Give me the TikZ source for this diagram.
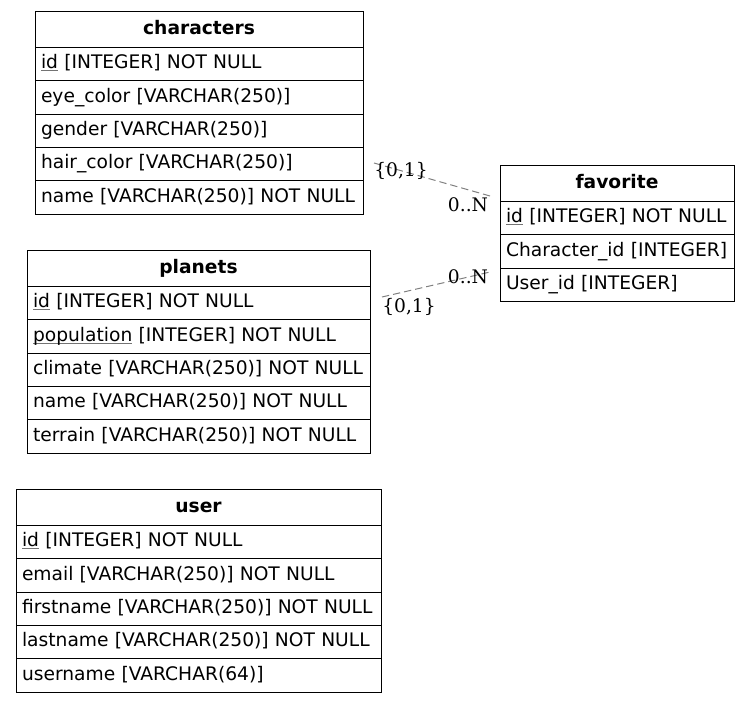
\documentclass[tikz,border=0pt]{standalone}
\usepackage{fontspec}
\setmainfont{DejaVu Sans}
\newfontfamily\lblfont{DejaVu Serif}
\usetikzlibrary{positioning}

\newcommand{\pk}[1]{\rlap{\color{black!55}\underline{\smash{\phantom{#1}}}}#1}

\tikzset{
  tablehead/.style={draw, anchor=north west, outer sep=0pt, minimum height=27.4pt, inner xsep=4.5pt, inner ysep=0pt,
    text height=10.5pt, text depth=3pt, align=center, font=\fontsize{14}{17}\selectfont\bfseries},
  tablerow/.style={draw, outer sep=0pt, minimum height=25pt, inner xsep=4.5pt, inner ysep=0pt,
    text height=10.5pt, text depth=3.5pt, align=left, font=\fontsize{14}{17}\selectfont},
  relation/.style={dash pattern=on 5.5pt off 3pt, gray, line width=0.75pt},
  cardlabel/.style={inner sep=0pt, font=\lblfont\fontsize{14}{17}\selectfont}
}

\begin{document}
\begin{tikzpicture}[x=0.75pt, y=-0.75pt, line width=0.75pt]
    \useasboundingbox (0,0) rectangle (751,703);

    % characters
    \node[tablehead, text width=237pt] (characters) at (35,11) {characters};
    \node[tablerow, text width=237pt, below=0pt of characters] (charid) {\pk{id} [INTEGER] NOT NULL};
    \node[tablerow, text width=237pt, below=0pt of charid] (chareye) {eye\_color [VARCHAR(250)]};
    \node[tablerow, text width=237pt, below=0pt of chareye] (chargender) {gender [VARCHAR(250)]};
    \node[tablerow, text width=237pt, below=0pt of chargender] (charhair) {hair\_color [VARCHAR(250)]};
    \node[tablerow, text width=237pt, below=0pt of charhair] (charname) {name [VARCHAR(250)] NOT NULL};

    % favorite
    \node[tablehead, text width=166.5pt] (favorite) at (500,165) {favorite};
    \node[tablerow, text width=166.5pt, below=0pt of favorite] (favid) {\pk{id} [INTEGER] NOT NULL};
    \node[tablerow, text width=166.5pt, below=0pt of favid] (favchar) {Character\_id [INTEGER]};
    \node[tablerow, text width=166.5pt, below=0pt of favchar] (favuser) {User\_id [INTEGER]};

    % planets
    \node[tablehead, text width=248.25pt] (planets) at (27,250) {planets};
    \node[tablerow, text width=248.25pt, below=0pt of planets] (planid) {\pk{id} [INTEGER] NOT NULL};
    \node[tablerow, text width=248.25pt, below=0pt of planid] (planpop) {\pk{population} [INTEGER] NOT NULL};
    \node[tablerow, text width=248.25pt, below=0pt of planpop] (planclimate) {climate [VARCHAR(250)] NOT NULL};
    \node[tablerow, text width=248.25pt, below=0pt of planclimate] (planname) {name [VARCHAR(250)] NOT NULL};
    \node[tablerow, text width=248.25pt, below=0pt of planname] (planterrain) {terrain [VARCHAR(250)] NOT NULL};

    % user
    \node[tablehead, text width=264.75pt] (user) at (16,489) {user};
    \node[tablerow, text width=264.75pt, below=0pt of user] (userid) {\pk{id} [INTEGER] NOT NULL};
    \node[tablerow, text width=264.75pt, below=0pt of userid] (useremail) {email [VARCHAR(250)] NOT NULL};
    \node[tablerow, text width=264.75pt, below=0pt of useremail] (userfirst) {firstname [VARCHAR(250)] NOT NULL};
    \node[tablerow, text width=264.75pt, below=0pt of userfirst] (userlast) {lastname [VARCHAR(250)] NOT NULL};
    \node[tablerow, text width=264.75pt, below=0pt of userlast] (username) {username [VARCHAR(64)]};

    % relations
    \coordinate (charend) at (374,163);
    \coordinate (favend1) at (490,196);
    \coordinate (planend) at (382,297);
    \coordinate (favend2) at (490,272);
    \draw[relation] (charend) -- (favend1);
    \draw[relation] (planend) -- (favend2);
    \node[cardlabel] (charcard) at (401,171) {\{0,1\}};
    \node[cardlabel] (favcard1) at (468,205) {0..N};
    \node[cardlabel] (favcard2) at (468,277) {0..N};
    \node[cardlabel] (plancard) at (409,307) {\{0,1\}};

\end{tikzpicture}
\end{document}
